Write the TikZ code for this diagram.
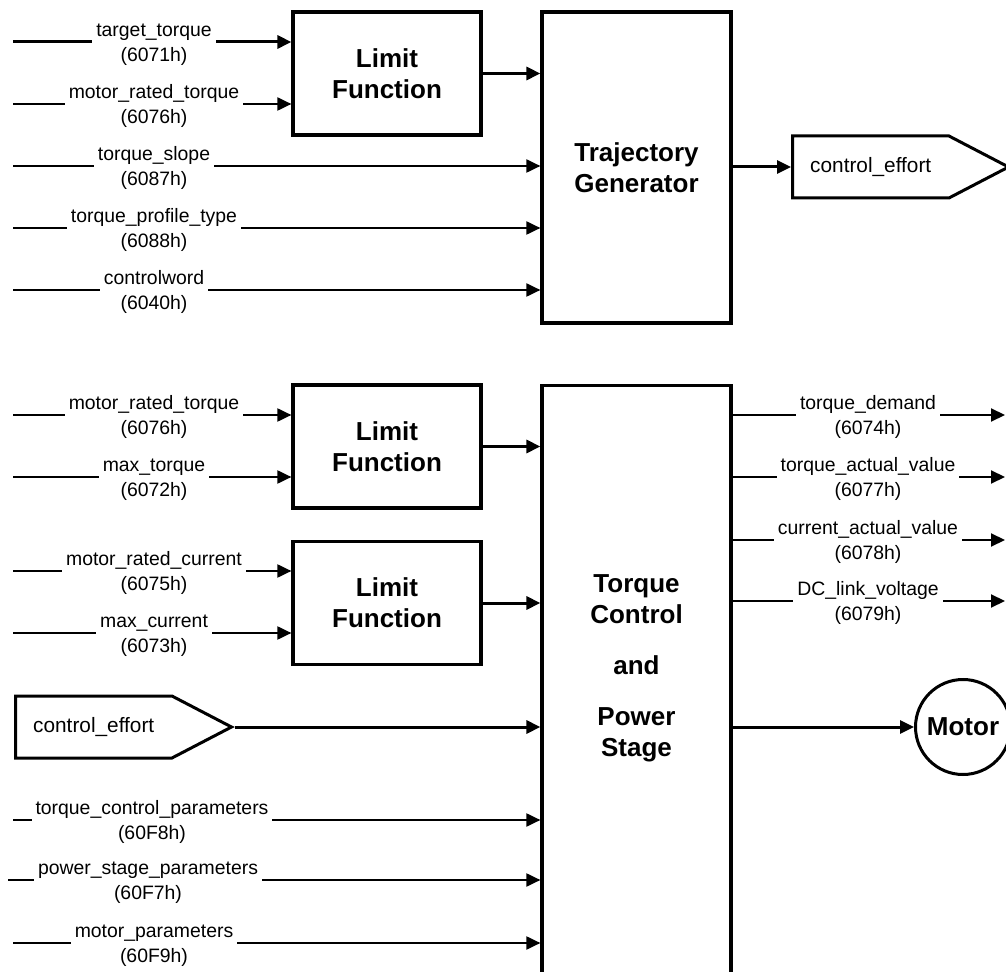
\documentclass[tikz,border=0pt]{standalone}
\usepackage{fontspec}
\setmainfont{Liberation Sans}
\usetikzlibrary{arrows.meta,positioning,shapes.symbols}

\begin{document}
\begin{tikzpicture}[
  x=0.5pt, y=-0.5pt,
  ttl/.style={align=center, font=\bfseries\fontsize{13}{15.5}\selectfont},
  blk/.style={ttl, draw, line width=1.6pt, minimum width=94pt, minimum height=61.5pt},
  lbl/.style={fill=white, inner xsep=2pt, inner ysep=0pt, yshift=-2pt, align=center,
              font=\fontsize{9.7}{12.5}\selectfont,
              execute at begin node=\strut, execute at end node=\strut},
  tag/.style={signal, signal to=east, signal pointer angle=55, draw, line width=1.5pt,
              minimum width=108pt, minimum height=31pt, font=\fontsize{10.4}{12}\selectfont},
  sig/.style={line width=1pt, -{Triangle[length=7pt, width=6.5pt]}},
  flow/.style={line width=1.5pt, -{Triangle[length=7pt, width=6.5pt]}}
]
\useasboundingbox (0,0) rectangle (1006,972);
\clip (0,0) rectangle (1006,972);

% Blocks
\node[blk] (lim1) at (387,73.5) {Limit\\Function};
\node[blk, minimum width=94.5pt, minimum height=155.5pt] (traj) at (636.5,167.5) {Trajectory\\Generator};
\node[blk] (lim2) at (387,446.5) {Limit\\Function};
\node[blk] (lim3) at (387,603) {Limit\\Function};
\node[blk, minimum width=94.5pt, minimum height=313pt, anchor=north] (tcps) at (636.5,384) {};
\node[ttl] (tcpsname) at (636.5,668) {Torque\\Control\\[10pt]and\\[10pt]Power\\Stage};

\node[tag, anchor=west] (effout) at (791,167) {control\_effort};
\node[tag, anchor=west] (effin) at (14,727) {control\_effort};
\node[circle, draw, line width=1.5pt, minimum size=47.5pt, inner sep=0pt,
      font=\bfseries\fontsize{13}{15.5}\selectfont] (motor) at (963,727) {Motor};

% Trajectory generator inputs
\coordinate (a1) at (13,42);
\coordinate (a2) at (13,104);
\coordinate (a3) at (13,166);
\coordinate (a4) at (13,228);
\coordinate (a5) at (13,290);
\draw[flow] (a1) -- (a1 -| lim1.west);
\draw[sig] (a2) -- (a2 -| lim1.west);
\draw[sig] (a3) -- (a3 -| traj.west);
\draw[sig] (a4) -- (a4 -| traj.west);
\draw[sig] (a5) -- (a5 -| traj.west);
\draw[flow] (lim1.east) -- (lim1.east -| traj.west);
\draw[flow] (effout.west -| traj.east) -- (effout.west);

\node[lbl] (la1) at (154,42) {target\_torque\\(6071h)};
\node[lbl] (la2) at (154,104) {motor\_rated\_torque\\(6076h)};
\node[lbl] (la3) at (154,166) {torque\_slope\\(6087h)};
\node[lbl] (la4) at (154,228) {torque\_profile\_type\\(6088h)};
\node[lbl] (la5) at (154,290) {controlword\\(6040h)};

% Torque control inputs
\coordinate (b1) at (13,415);
\coordinate (b2) at (13,477);
\coordinate (b3) at (13,571);
\coordinate (b4) at (13,633);
\coordinate (b5) at (13,820);
\coordinate (b6) at (8,880);
\coordinate (b7) at (13,943);
\draw[sig] (b1) -- (b1 -| lim2.west);
\draw[sig] (b2) -- (b2 -| lim2.west);
\draw[sig] (b3) -- (b3 -| lim3.west);
\draw[sig] (b4) -- (b4 -| lim3.west);
\draw[sig] (b5) -- (b5 -| tcps.west);
\draw[sig] (b6) -- (b6 -| tcps.west);
\draw[sig] (b7) -- (b7 -| tcps.west);
\draw[flow] (lim2.east) -- (lim2.east -| tcps.west);
\draw[flow] (lim3.east) -- (lim3.east -| tcps.west);
\draw[flow] (effin.east) -- (effin.east -| tcps.west);

\node[lbl] (lb1) at (154,415) {motor\_rated\_torque\\(6076h)};
\node[lbl] (lb2) at (154,477) {max\_torque\\(6072h)};
\node[lbl] (lb3) at (154,571) {motor\_rated\_current\\(6075h)};
\node[lbl] (lb4) at (154,633) {max\_current\\(6073h)};
\node[lbl] (lb5) at (152,820) {torque\_control\_parameters\\(60F8h)};
\node[lbl] (lb6) at (148,880) {power\_stage\_parameters\\(60F7h)};
\node[lbl] (lb7) at (154,943) {motor\_parameters\\(60F9h)};

% Torque control outputs
\coordinate (q1) at (1005,415);
\coordinate (q2) at (1005,477);
\coordinate (q3) at (1005,540);
\coordinate (q4) at (1005,601);
\draw[sig] (q1 -| tcps.east) -- (q1);
\draw[sig] (q2 -| tcps.east) -- (q2);
\draw[sig] (q3 -| tcps.east) -- (q3);
\draw[sig] (q4 -| tcps.east) -- (q4);
\draw[flow] (motor.west -| tcps.east) -- (motor.west);

\node[lbl] (lq1) at (868,415) {torque\_demand\\(6074h)};
\node[lbl] (lq2) at (868,477) {torque\_actual\_value\\(6077h)};
\node[lbl] (lq3) at (868,540) {current\_actual\_value\\(6078h)};
\node[lbl] (lq4) at (868,601) {DC\_link\_voltage\\(6079h)};
\end{tikzpicture}
\end{document}
